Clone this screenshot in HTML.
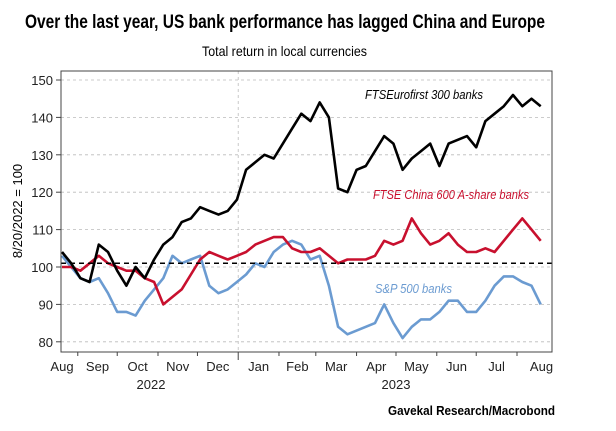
<!DOCTYPE html>
<html><head><meta charset="utf-8"><style>
html,body{margin:0;padding:0;background:#fff;}
svg{display:block;font-family:"Liberation Sans",sans-serif;}
</style></head><body>
<svg id="chart" width="616" height="431" viewBox="0 0 616 431">
<text x="25" y="28" font-size="19" font-weight="bold" textLength="520" lengthAdjust="spacingAndGlyphs">Over the last year, US bank performance has lagged China and Europe</text>
<text x="202" y="56" font-size="14" textLength="165" lengthAdjust="spacingAndGlyphs">Total return in local currencies</text>
<text transform="translate(22,211) rotate(-90)" text-anchor="middle" font-size="13">8/20/2022 = 100</text>
<text x="555" y="415" text-anchor="end" font-size="13" font-weight="bold" textLength="167" lengthAdjust="spacingAndGlyphs">Gavekal Research/Macrobond</text>
<g id="grid"></g>
<g id="series"></g>
<rect x="61" y="71" width="491" height="281" fill="none" stroke="#444" stroke-width="1"/>
<g id="axes"></g>
<text x="365" y="99" font-size="13" font-style="italic" fill="#000" textLength="118" lengthAdjust="spacingAndGlyphs">FTSEurofirst 300 banks</text>
<text x="373" y="199" font-size="13" font-style="italic" fill="#c8102e" textLength="156" lengthAdjust="spacingAndGlyphs">FTSE China 600 A-share banks</text>
<text x="375" y="293" font-size="13" font-style="italic" fill="#6b9bd1" textLength="77" lengthAdjust="spacingAndGlyphs">S&amp;P 500 banks</text>
</svg>
<script>
const yTicks = [80, 90, 100, 110, 120, 130, 140, 150];
const monthLabels = ["Aug","Sep","Oct","Nov","Dec","Jan","Feb","Mar","Apr","May","Jun","Jul","Aug"];
const monthStartDays = [-19, 12, 42, 73, 103, 134, 165, 193, 224, 254, 285, 315, 346];
const yearLabels = ["2022","2023"];
const weekDays = [];
for (let k = 0; k <= 52; k++) weekDays.push(k * 7);
const euroValues = [104,101,97,96,106,104,99,95,100,97,102,106,108,112,113,116,115,114,115,118,126,128,130,129,133,137,141,139,144,140,121,120,126,127,131,135,133,126,129,131,133,127,133,134,135,132,139,141,143,146,143,145,143];
const chinaValues = [100,100,99,101,103,101,100,99,99,97,96,90,92,94,98,102,104,103,102,103,104,106,107,108,108,105,104,104,105,103,101,102,102,102,103,107,106,107,113,109,106,107,109,106,104,104,105,104,107,110,113,110,107];
const spValues = [103,100,97,96,97,93,88,88,87,91,94,97,103,101,102,103,95,93,94,96,98,101,100,104,106,107,106,102,103,95,84,82,83,84,85,90,85,81,84,86,86,88,91,91,88,88,91,95,97.5,97.5,96,95,90];
const refLevel = 101;

const X0 = 62, PX_PER_DAY = 1.315;
const xScale = d => X0 + d * PX_PER_DAY;
const yScale = v => 267 - (v - 100) * 3.74;
const NS = "http://www.w3.org/2000/svg";
function mk(tag, attrs, parent) {
  const e = document.createElementNS(NS, tag);
  for (const k in attrs) e.setAttribute(k, attrs[k]);
  parent.appendChild(e);
  return e;
}
const grid = document.getElementById('grid');
const axes = document.getElementById('axes');
const series = document.getElementById('series');

yTicks.forEach(v => {
  const y = yScale(v);
  const g = mk('line', {x1: 61, x2: 552, y1: y, y2: y, stroke: '#bbb', 'stroke-dasharray': '3,3', 'stroke-width': 0.8}, grid);
  
  
  const t = mk('line', {x1: 56, x2: 61, y1: y, y2: y, stroke: '#444'}, axes);
  
  
  const l = mk('text', {x: 53, y: y + 5, 'text-anchor': 'end', 'font-size': 13, fill: '#222'}, axes);
  l.textContent = v;
  
  
});
const jan = xScale(monthStartDays[5]);
const vd = mk('line', {x1: jan, x2: jan, y1: 71, y2: 352, stroke: '#bbb', 'stroke-dasharray': '3,3', 'stroke-width': 0.8}, grid);



monthLabels.forEach((m, i) => {
  const x = xScale(monthStartDays[i]);
  if (i > 0) {
    const t = mk('line', {x1: x, x2: x, y1: 352, y2: i === 5 ? 360 : 356, stroke: '#444'}, axes);
    
    
  }
  const next = i < monthLabels.length - 1 ? xScale(monthStartDays[i + 1]) : 566;
  const cx = i === 0 ? 62 : (x + next) / 2;
  const l = mk('text', {x: cx, y: 371, 'text-anchor': 'middle', 'font-size': 13, fill: '#222'}, axes);
  l.textContent = m;
  
  
});
[[151, yearLabels[0]], [396, yearLabels[1]]].forEach(([x, s]) => {
  const l = mk('text', {x: x, y: 389, 'text-anchor': 'middle', 'font-size': 13, fill: '#222'}, axes);
  l.textContent = s;
  
  
});

function drawLine(vals, color, name) {
  const d = vals.map((v, i) => (i ? 'L' : 'M') + xScale(weekDays[i]).toFixed(1) + ',' + yScale(v).toFixed(1)).join('');
  const p = mk('path', {d: d, fill: 'none', stroke: color, 'stroke-width': 2.6, 'stroke-linejoin': 'round'}, series);
  
  
}
drawLine(spValues, '#6b9bd1', 'sp500-banks-line');
drawLine(chinaValues, '#c8102e', 'ftse-china-banks-line');
drawLine(euroValues, '#000', 'ftseurofirst-banks-line');
const ry = yScale(refLevel);
const ref = mk('line', {x1: 61, x2: 552, y1: ry, y2: ry, stroke: '#000', 'stroke-width': 1.6, 'stroke-dasharray': '5,4'}, series);


</script>
</body></html>
